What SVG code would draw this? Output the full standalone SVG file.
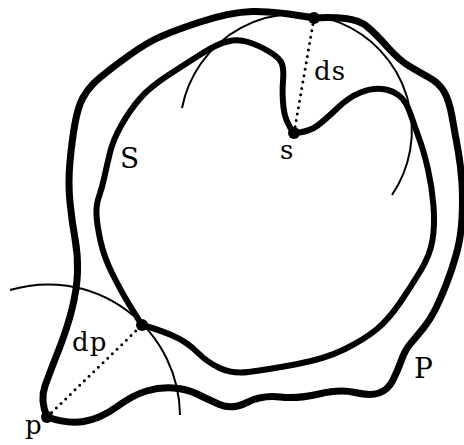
<svg xmlns="http://www.w3.org/2000/svg" width="464" height="445" viewBox="0 0 464 445">
<style>
.thick{fill:none;stroke:#000;stroke-linecap:round;stroke-linejoin:round}
.outer{stroke-width:7}
.inner{stroke-width:6}
.arc{fill:none;stroke:#000;stroke-width:2}
.dot{fill:none;stroke:#000;stroke-width:3;stroke-linecap:round;stroke-dasharray:0 6.5}
.pt{fill:#000}
.lbl{font-family:"DejaVu Serif","Liberation Serif",serif;fill:#000}
</style>
<rect width="464" height="445" fill="#fff"/>
<g id="arcs">
<path class="arc" d="M182,108 A116,116 0 1 1 392,195"/>
<path class="arc" d="M10,290 A132,132 0 0 1 180,415"/>
</g>
<g id="curve-P">
<path class="thick outer" d="M314,18 Q332,17 345.5,18.5 Q359,20 367,26.5 Q375,33 387,46.5 Q399,60 409,66 Q419,72 429,77.5 Q439,83 444,91.5 Q449,100 452,116.5 Q455,133 458,150 Q461,167 462,183.5 Q463,200 462,218.5 Q461,237 456.5,253.5 Q452,270 446,285 Q440,300 435,310 Q430,320 423.5,328 Q417,336 411,343 Q405,350 401.5,360 Q398,370 393,380 Q388,390 379,393 Q370,396 355,392.5 Q340,389 319,394 Q298,399 280,397 Q262,395 247,402.5 Q232,410 219.5,404.5 Q207,399 197,394 Q187,389 173.5,388 Q160,387 146.5,391 Q133,395 116.5,407 Q100,419 83.5,421.5 Q67,424 47,417"/>
<path class="thick outer" d="M47,417 Q40,400 45,386 Q50,372 58.5,350.5 Q67,329 72,309 Q77,289 77.5,272 Q78,255 75,238.5 Q72,222 70,202.5 Q68,183 70,161.5 Q72,140 75,123.5 Q78,107 82.5,98.5 Q87,90 93.5,83.5 Q100,77 120,62 Q140,47 153.5,40 Q167,33 198.5,22.5 Q230,12 252.5,11.5 Q275,11 314,18"/>
</g>
<g id="curve-S">
<path class="thick inner" d="M294,133 Q309,132 317,126 Q325,120 337,108.5 Q349,97 360.5,92.5 Q372,88 382,89 Q392,90 399,95.5 Q406,101 410.5,114 Q415,127 419.5,139.5 Q424,152 428,169.5 Q432,187 433.5,206 Q435,225 432.5,240 Q430,255 421,270 Q412,285 400.5,302 Q389,319 377,329 Q365,339 345,349 Q325,359 295,364.5 Q265,370 248.5,372 Q232,374 219.5,368 Q207,362 197,352 Q187,342 173.5,336 Q160,330 142,325"/>
<path class="thick inner" d="M142,325 Q133,311 126.5,300 Q120,289 112,273 Q104,257 100.5,241 Q97,225 96.5,215 Q96,205 99,196.5 Q102,188 104.5,176.5 Q107,165 110,152.5 Q113,140 121.5,125 Q130,110 140,98.5 Q150,87 168.5,75 Q187,63 202,53.5 Q217,44 227.5,41.5 Q238,39 248,42 Q258,45 269,51.5 Q280,58 282,64 Q284,70 283,81.5 Q282,93 283.5,107.5 Q285,122 294,133"/>
</g>
<g id="distances">
<line class="dot" x1="314" y1="18" x2="294" y2="133"/>
<line class="dot" x1="47" y1="417" x2="142" y2="325"/>
</g>
<g id="points">
<circle class="pt" cx="314" cy="18" r="6"/>
<circle class="pt" cx="294" cy="133" r="6"/>
<circle class="pt" cx="142" cy="325" r="6"/>
<circle class="pt" cx="47" cy="417" r="6"/>
</g>
<g id="labels">
<text class="lbl" x="314" y="80" font-size="26" letter-spacing="1">ds</text>
<text class="lbl" x="280" y="159" font-size="26">s</text>
<text class="lbl" x="72" y="351" font-size="26" letter-spacing="1">dp</text>
<text class="lbl" x="25" y="434" font-size="26">p</text>
<text class="lbl" x="120" y="168" font-size="28">S</text>
<text class="lbl" x="414" y="378" font-size="28">P</text>
</g>
</svg>
